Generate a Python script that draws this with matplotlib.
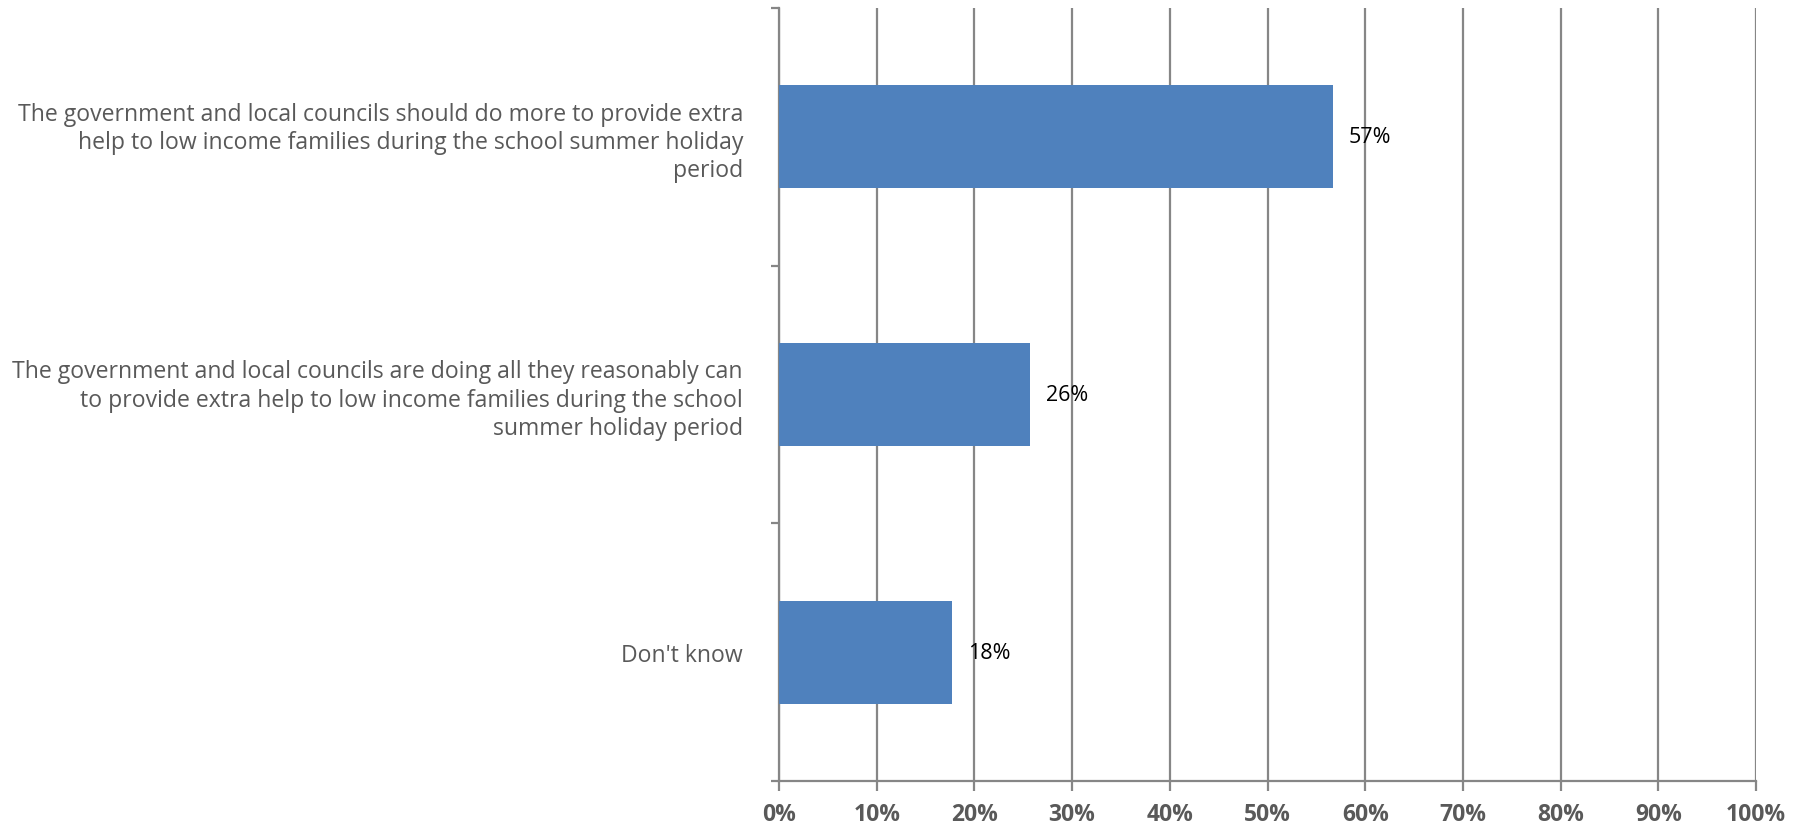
import matplotlib
matplotlib.use("Agg")
import matplotlib.pyplot as plt
from matplotlib.ticker import FixedLocator, PercentFormatter

categories = [
    "The government and local councils should do more to provide extra\nhelp to low income families during the school summer holiday\nperiod",
    "The government and local councils are doing all they reasonably can\nto provide extra help to low income families during the school\nsummer holiday period",
    "Don't know",
]
values = [0.567, 0.257, 0.177]
value_labels = ["57%", "26%", "18%"]
xticks = [0, 0.1, 0.2, 0.3, 0.4, 0.5, 0.6, 0.7, 0.8, 0.9, 1.0]

plt.rcParams['font.family'] = ['Open Sans', 'DejaVu Sans']

fig = plt.figure(figsize=(18.04, 8.28), dpi=100)
ax = fig.add_axes([779/1804, 1-782/828, (1756-779)/1804, (782-9)/828])

gray = '#868686'
bar_color = '#4f81bd'

ypos = list(range(len(categories)))
ax.barh(ypos, values, height=0.4, color=bar_color, zorder=3)
ax.set_ylim(len(categories) - 0.5, -0.5)
ax.set_xlim(0, 1.0)

for y, v, lab in zip(ypos, values, value_labels):
    ax.annotate(lab, xy=(v, y), xytext=(11.5, 0), textcoords='offset points',
                ha='left', va='center', fontsize=15.5, color='black', zorder=4)

# gridlines
ax.xaxis.set_major_locator(FixedLocator(xticks))
ax.xaxis.set_major_formatter(PercentFormatter(1.0, decimals=0))
ax.grid(axis='x', color=gray, linewidth=1.6, zorder=1)
ax.set_axisbelow(True)

# y axis: major ticks at boundaries, labels at centres
bounds = [-0.5 + i for i in range(len(categories) + 1)]
ax.yaxis.set_major_locator(FixedLocator(bounds))
ax.yaxis.set_major_formatter(plt.NullFormatter())
ax.yaxis.set_minor_locator(FixedLocator(ypos))
ax.set_yticklabels(categories, minor=True)
ax.tick_params(axis='y', which='major', length=6, width=1.6, color=gray, direction='out')
ax.tick_params(axis='y', which='minor', length=0, pad=26, labelsize=16.6, labelcolor='#595959')
for t in ax.get_yticklabels(minor=True):
    t.set_ha('right')
    t.set_linespacing(1.23)

ax.tick_params(axis='x', which='major', length=7, width=1.6, color=gray, direction='out',
               pad=8, labelsize=16.5, labelcolor='#595959')
for t in ax.get_xticklabels():
    t.set_fontweight('bold')

for s in ['top', 'right']:
    ax.spines[s].set_visible(False)
for s in ['left', 'bottom']:
    ax.spines[s].set_color(gray)
    ax.spines[s].set_linewidth(1.6)

fig.savefig('out.png', dpi=100, facecolor='white')
